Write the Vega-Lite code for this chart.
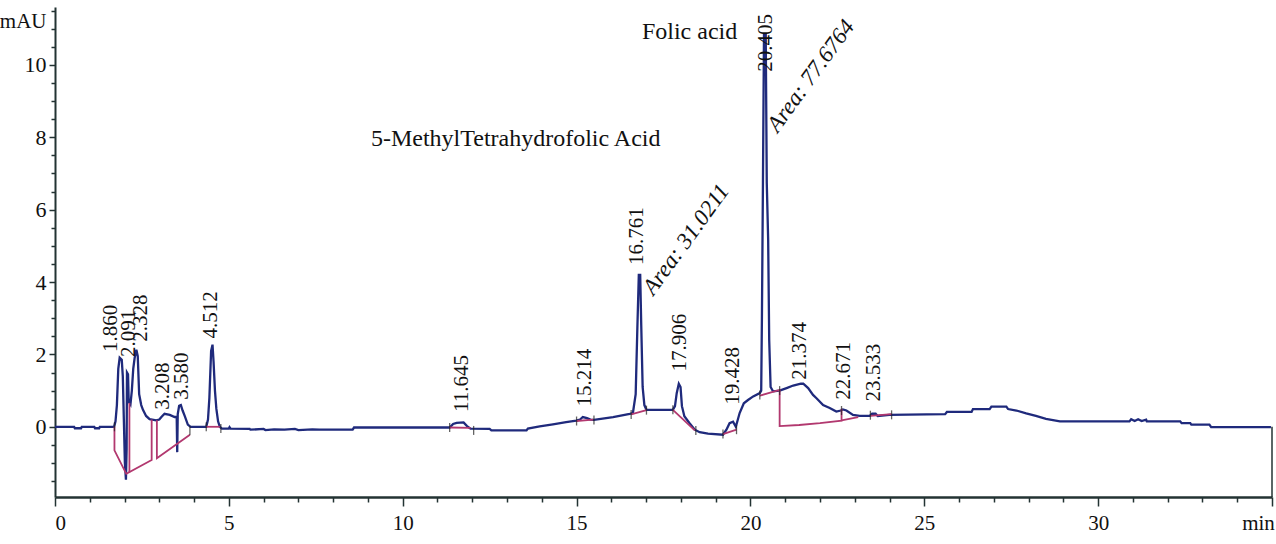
{
  "$schema": "https://vega.github.io/schema/vega-lite/v6.json",
  "width": 1217,
  "height": 490,
  "autosize": {"type": "none"},
  "padding": {"left": 55, "top": 7, "right": 4, "bottom": 47},
  "background": "white",
  "config": {
    "view": {"stroke": null},
    "font": "Liberation Serif",
    "axis": {"labelFont": "Liberation Serif", "titleFont": "Liberation Serif"},
    "text": {"font": "Liberation Serif"}
  },
  "datasets": {
    "trace": [
      {"x":0,"y":0},{"x":0.55,"y":0},{"x":0.57,"y":-0.04},{"x":0.75,"y":-0.04},{"x":0.77,"y":0},{"x":1.13,"y":0},{"x":1.15,"y":-0.04},{"x":1.27,"y":-0.04},{"x":1.29,"y":0},{"x":1.70,"y":0},
      {"x":1.74,"y":0.15},{"x":1.78,"y":0.6},{"x":1.82,"y":1.6},{"x":1.86,"y":1.91},{"x":1.92,"y":1.85},{"x":1.95,"y":1.4},{"x":1.98,"y":0.2},{"x":2.01,"y":-1.0},{"x":2.04,"y":-1.46},{"x":2.06,"y":-0.6},{"x":2.07,"y":1.5},{"x":2.10,"y":1.45},{"x":2.12,"y":0.7},{"x":2.17,"y":0.62},{"x":2.21,"y":1.0},{"x":2.25,"y":1.6},{"x":2.29,"y":1.9},{"x":2.34,"y":2.13},{"x":2.38,"y":1.95},{"x":2.42,"y":0.9},{"x":2.48,"y":0.6},{"x":2.53,"y":0.47},{"x":2.62,"y":0.3},{"x":2.72,"y":0.21},{"x":2.91,"y":0.18},{"x":3.0,"y":0.2},{"x":3.06,"y":0.27},{"x":3.15,"y":0.36},{"x":3.3,"y":0.33},{"x":3.44,"y":0.27},{"x":3.50,"y":0.27},{"x":3.515,"y":-0.7},{"x":3.53,"y":0.35},{"x":3.57,"y":0.58},{"x":3.62,"y":0.6},{"x":3.67,"y":0.45},{"x":3.73,"y":0.3},{"x":3.82,"y":0.06},{"x":3.9,"y":0},
      {"x":4.35,"y":0},{"x":4.40,"y":0.2},{"x":4.44,"y":0.8},{"x":4.49,"y":2.1},{"x":4.53,"y":2.27},{"x":4.56,"y":1.8},{"x":4.60,"y":1.0},{"x":4.64,"y":0.5},{"x":4.69,"y":0.15},{"x":4.74,"y":0},{"x":4.8,"y":-0.05},{"x":5.0,"y":-0.05},{"x":5.02,"y":-0.01},{"x":5.05,"y":-0.05},{"x":5.6,"y":-0.06},{"x":5.62,"y":-0.08},{"x":6.0,"y":-0.06},{"x":6.05,"y":-0.09},{"x":6.3,"y":-0.07},{"x":6.6,"y":-0.08},{"x":6.9,"y":-0.06},{"x":7.0,"y":-0.09},{"x":7.4,"y":-0.07},{"x":7.6,"y":-0.08},{"x":8.56,"y":-0.08},{"x":8.6,"y":-0.02},{"x":11.35,"y":-0.02},
      {"x":11.45,"y":0.08},{"x":11.55,"y":0.11},{"x":11.75,"y":0.12},{"x":11.85,"y":0.02},{"x":11.95,"y":-0.05},{"x":12.5,"y":-0.06},{"x":12.55,"y":-0.1},{"x":13.56,"y":-0.1},{"x":13.6,"y":-0.05},{"x":13.94,"y":0.01},{"x":14.32,"y":0.07},{"x":14.7,"y":0.13},{"x":14.99,"y":0.17},{"x":15.1,"y":0.2},{"x":15.18,"y":0.27},{"x":15.3,"y":0.24},{"x":15.4,"y":0.2},{"x":15.5,"y":0.19},{"x":16.05,"y":0.27},{"x":16.53,"y":0.36},{"x":16.62,"y":0.38},
      {"x":16.7,"y":0.9},{"x":16.75,"y":2.8},{"x":16.79,"y":4.2},{"x":16.83,"y":4.2},{"x":16.86,"y":2.8},{"x":16.9,"y":1.1},{"x":16.95,"y":0.6},{"x":17.01,"y":0.47},{"x":17.77,"y":0.47},{"x":17.83,"y":0.57},{"x":17.88,"y":0.93},{"x":17.94,"y":1.19},{"x":17.99,"y":1.1},{"x":18.03,"y":0.57},{"x":18.1,"y":0.29},{"x":18.25,"y":0.1},{"x":18.4,"y":-0.08},{"x":18.54,"y":-0.15},{"x":18.78,"y":-0.19},{"x":19.21,"y":-0.22},{"x":19.31,"y":-0.08},{"x":19.4,"y":0.1},{"x":19.5,"y":0.14},{"x":19.58,"y":0.0},{"x":19.69,"y":0.38},{"x":19.81,"y":0.65},{"x":19.93,"y":0.74},{"x":20.08,"y":0.84},{"x":20.27,"y":0.93},{"x":20.31,"y":1.0},
      {"x":20.33,"y":2.96},{"x":20.36,"y":6.74},{"x":20.39,"y":10.85},{"x":20.44,"y":10.85},{"x":20.47,"y":6.74},{"x":20.51,"y":5.17},{"x":20.54,"y":2.4},{"x":20.58,"y":1.1},{"x":20.65,"y":0.98},{"x":20.84,"y":1.0},{"x":21.04,"y":1.07},{"x":21.23,"y":1.14},{"x":21.45,"y":1.19},{"x":21.52,"y":1.19},{"x":21.66,"y":1.07},{"x":21.8,"y":0.88},{"x":21.9,"y":0.79},{"x":22.09,"y":0.6},{"x":22.28,"y":0.52},{"x":22.47,"y":0.42},{"x":22.6,"y":0.45},{"x":22.66,"y":0.48},{"x":22.76,"y":0.45},{"x":22.95,"y":0.33},{"x":23.14,"y":0.3},{"x":23.43,"y":0.3},{"x":23.5,"y":0.36},{"x":23.6,"y":0.36},{"x":23.66,"y":0.3},{"x":24.0,"y":0.33},
      {"x":25.6,"y":0.35},{"x":25.65,"y":0.41},{"x":26.36,"y":0.41},{"x":26.4,"y":0.49},{"x":26.88,"y":0.49},{"x":26.93,"y":0.56},{"x":27.36,"y":0.56},{"x":27.41,"y":0.49},{"x":27.65,"y":0.45},{"x":27.93,"y":0.37},{"x":28.21,"y":0.3},{"x":28.5,"y":0.22},{"x":28.9,"y":0.15},{"x":30.9,"y":0.15},{"x":30.95,"y":0.21},{"x":31.05,"y":0.16},{"x":31.15,"y":0.21},{"x":31.25,"y":0.16},{"x":31.38,"y":0.2},{"x":31.4,"y":0.15},{"x":32.36,"y":0.15},{"x":32.4,"y":0.1},{"x":32.65,"y":0.1},{"x":32.68,"y":0.06},{"x":33.2,"y":0.06},{"x":33.25,"y":-0.01},{"x":34.97,"y":-0.01}
    ],
    "baselines": [
      {"seg":1,"i":1,"x":1.71,"y":0},{"seg":1,"i":2,"x":1.71,"y":-0.65},{"seg":1,"i":3,"x":2.05,"y":-1.3},{"seg":1,"i":4,"x":2.78,"y":-0.92},{"seg":1,"i":5,"x":2.78,"y":0.2},
      {"seg":2,"i":1,"x":2.14,"y":-1.26},{"seg":2,"i":2,"x":2.14,"y":0.66},
      {"seg":3,"i":1,"x":2.93,"y":0.18},{"seg":3,"i":2,"x":2.93,"y":-0.87},{"seg":3,"i":3,"x":3.88,"y":-0.22},
      {"seg":4,"i":1,"x":4.35,"y":0},{"seg":4,"i":2,"x":4.74,"y":0},
      {"seg":5,"i":1,"x":11.35,"y":-0.02},{"seg":5,"i":2,"x":11.95,"y":-0.03},
      {"seg":6,"i":1,"x":15.0,"y":0.16},{"seg":6,"i":2,"x":15.48,"y":0.2},
      {"seg":7,"i":1,"x":16.57,"y":0.34},{"seg":7,"i":2,"x":17.01,"y":0.46},
      {"seg":8,"i":1,"x":17.77,"y":0.47},{"seg":8,"i":2,"x":18.4,"y":-0.1},
      {"seg":9,"i":1,"x":19.21,"y":-0.2},{"seg":9,"i":2,"x":19.6,"y":-0.08},
      {"seg":10,"i":1,"x":20.27,"y":0.86},{"seg":10,"i":2,"x":20.84,"y":1.02},{"seg":10,"i":3,"x":20.84,"y":0.02},{"seg":10,"i":4,"x":21.4,"y":0.05},{"seg":10,"i":5,"x":22.0,"y":0.1},{"seg":10,"i":6,"x":22.62,"y":0.17},{"seg":10,"i":7,"x":22.62,"y":0.5},
      {"seg":11,"i":1,"x":22.62,"y":0.18},{"seg":11,"i":2,"x":23.1,"y":0.27},
      {"seg":12,"i":1,"x":23.45,"y":0.3},{"seg":12,"i":2,"x":24.06,"y":0.35}
    ],
    "marks": [
      {"x":1.71,"y":0},{"x":3.88,"y":-0.1},{"x":4.35,"y":0},{"x":4.77,"y":-0.05},{"x":11.35,"y":-0.02},{"x":12.04,"y":-0.1},{"x":15.0,"y":0.16},{"x":15.5,"y":0.19},{"x":16.57,"y":0.34},{"x":17.01,"y":0.46},{"x":17.77,"y":0.47},{"x":18.43,"y":-0.1},{"x":19.21,"y":-0.2},{"x":19.6,"y":-0.08},{"x":20.27,"y":0.88},{"x":20.84,"y":1.0},{"x":22.62,"y":0.45},{"x":23.45,"y":0.32},{"x":24.06,"y":0.33}
    ],
    "edge": [{"x":35,"y":-1.94,"y2":0}],
    "labels": [
      {"kind":"rt","x":1.62,"y":2.07,"t":"1.860"},
      {"kind":"rt","x":2.12,"y":1.93,"t":"2.091"},
      {"kind":"rt","x":2.48,"y":2.35,"t":"2.328"},
      {"kind":"rt","x":3.12,"y":0.47,"t":"3.208"},
      {"kind":"rt","x":3.65,"y":0.75,"t":"3.580"},
      {"kind":"rt","x":4.49,"y":2.44,"t":"4.512"},
      {"kind":"rt","x":11.7,"y":0.41,"t":"11.645"},
      {"kind":"rt","x":15.25,"y":0.56,"t":"15.214"},
      {"kind":"rt","x":16.74,"y":4.47,"t":"16.761"},
      {"kind":"rt","x":17.97,"y":1.53,"t":"17.906"},
      {"kind":"rt","x":19.5,"y":0.61,"t":"19.428"},
      {"kind":"rt","x":20.44,"y":9.81,"t":"20.405"},
      {"kind":"rt","x":21.44,"y":1.3,"t":"21.374"},
      {"kind":"rt","x":22.68,"y":0.75,"t":"22.671"},
      {"kind":"rt","x":23.55,"y":0.7,"t":"23.533"},
      {"kind":"area","x":17.05,"y":3.72,"t":"Area: 31.0211"},
      {"kind":"area","x":20.62,"y":8.22,"t":"Area: 77.6764"},
      {"kind":"name","x":18.25,"y":10.91,"t":"Folic acid"},
      {"kind":"name","x":13.25,"y":7.96,"t":"5-MethylTetrahydrofolic Acid"}
    ]
  },
  "encoding": {
    "x": {
      "field": "x", "type": "quantitative",
      "scale": {"domain": [0, 35], "nice": false, "zero": false},
      "axis": {
        "values": [0,1,2,3,4,5,6,7,8,9,10,11,12,13,14,15,16,17,18,19,20,21,22,23,24,25,26,27,28,29,30,31,32,33,34,35],
        "labelExpr": "datum.value % 5 === 0 && datum.value < 35 ? format(datum.value, 'd') : ''",
        "tickSize": {"condition": {"test": "datum.value % 5 === 0", "value": 9}, "value": 5},
        "tickColor": "#233333", "tickWidth": 1.5,
        "domainColor": "#233333", "domainWidth": 2.5,
        "grid": false,
        "labelFont": "Liberation Serif", "labelFontSize": 21, "labelColor": "#111111", "labelPadding": 6,
        "title": "min", "titleFont": "Liberation Serif", "titleFontSize": 21, "titleFontWeight": "normal", "titleColor": "#111111",
        "titleX": 1203, "titleY": 26, "titleAlign": "center", "titleBaseline": "middle", "titleAngle": 0
      }
    },
    "y": {
      "field": "y", "type": "quantitative",
      "scale": {"domain": [-1.94, 11.6], "nice": false, "zero": false},
      "axis": {
        "values": [-1.5,-1,-0.5,0,0.5,1,1.5,2,2.5,3,3.5,4,4.5,5,5.5,6,6.5,7,7.5,8,8.5,9,9.5,10,10.5,11,11.5],
        "labelExpr": "datum.value % 2 === 0 ? format(datum.value, 'd') : ''",
        "tickSize": {"condition": {"test": "datum.value % 2 === 0", "value": 6}, "value": 4},
        "tickColor": "#233333", "tickWidth": 1.5,
        "domainColor": "#233333", "domainWidth": 2,
        "grid": false,
        "labelFont": "Liberation Serif", "labelFontSize": 22, "labelColor": "#111111", "labelPadding": 3,
        "title": "mAU", "titleFont": "Liberation Serif", "titleFontSize": 21, "titleFontWeight": "normal", "titleColor": "#111111",
        "titleX": -9, "titleY": 14, "titleAlign": "right", "titleBaseline": "middle", "titleAngle": 0
      }
    }
  },
  "layer": [
    {
      "data": {"name": "edge"},
      "mark": {"type": "rule", "color": "#233333", "strokeWidth": 1.5},
      "encoding": {"y2": {"field": "y2"}}
    },
    {
      "data": {"name": "trace"},
      "mark": {"type": "line", "color": "#1f2a7c", "strokeWidth": 2.3}
    },
    {
      "data": {"name": "baselines"},
      "mark": {"type": "line", "color": "#b2386f", "strokeWidth": 1.8},
      "encoding": {
        "detail": {"field": "seg", "type": "nominal"},
        "order": {"field": "i", "type": "quantitative"}
      }
    },
    {
      "data": {"name": "marks"},
      "mark": {"type": "tick", "orient": "vertical", "size": 9, "thickness": 1.3, "color": "#222222"}
    },
    {
      "data": {"name": "labels"},
      "transform": [{"filter": "datum.kind === 'rt'"}],
      "mark": {"type": "text", "angle": 270, "align": "left", "baseline": "middle", "font": "Liberation Serif", "fontSize": 21, "color": "#111111"},
      "encoding": {"text": {"field": "t"}}
    },
    {
      "data": {"name": "labels"},
      "transform": [{"filter": "datum.kind === 'area'"}],
      "mark": {"type": "text", "angle": 306, "align": "left", "baseline": "middle", "font": "Liberation Serif", "fontStyle": "italic", "fontSize": 23, "color": "#111111"},
      "encoding": {"text": {"field": "t"}}
    },
    {
      "data": {"name": "labels"},
      "transform": [{"filter": "datum.kind === 'name'"}],
      "mark": {"type": "text", "align": "center", "baseline": "middle", "font": "Liberation Serif", "fontSize": 24, "color": "#111111"},
      "encoding": {"text": {"field": "t"}}
    }
  ]
}
